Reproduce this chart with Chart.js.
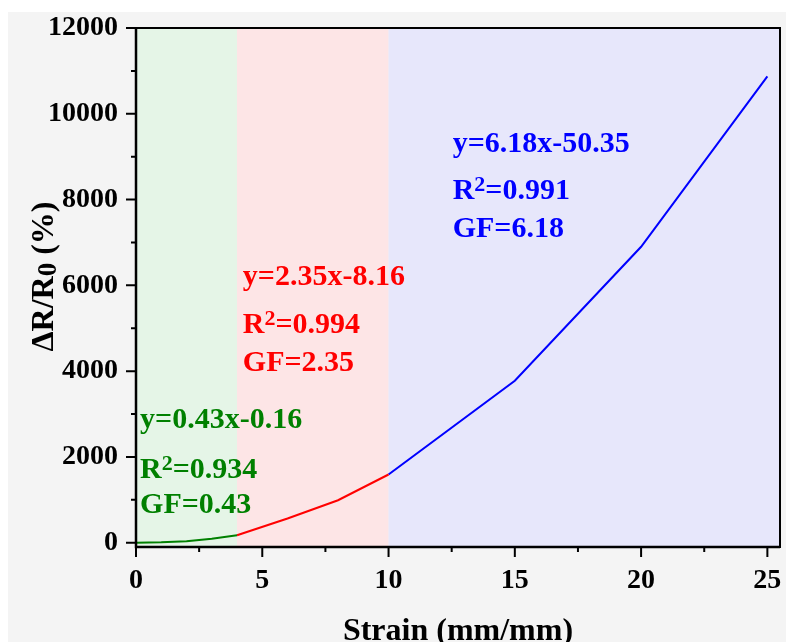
<!DOCTYPE html>
<html>
<head>
<meta charset="utf-8">
<script src="https://cdn.jsdelivr.net/npm/chart.js@4"></script>
<style>
  html, body { margin: 0; padding: 0; background: #ffffff; }
  canvas { display: block; }
</style>
</head>
<body>
<canvas id="strainChart" width="786" height="642"></canvas>
<script>
"use strict";

// Strain (mm/mm) against dR/R0 (%), one series for each linear region
const greenStrain = [0, 1, 2, 3, 4];
const greenResponse = [0, 8, 35, 95, 175];
const redStrain = [4, 6, 8, 10];
const redResponse = [175, 565, 990, 1590];
const blueStrain = [10, 15, 20, 25];
const blueResponse = [1590, 3775, 6900, 10870];

const xTickValues = [0, 5, 10, 15, 20, 25];
const xMinorValues = [2.5, 7.5, 12.5, 17.5, 22.5];
const yTickValues = [0, 2000, 4000, 6000, 8000, 10000, 12000];
const yMinorValues = [1000, 3000, 5000, 7000, 9000, 11000];

// strain limits of the three shaded regions
const regionEdges = [0, 4, 10, 25.5];

const fitEquations = ["y=0.43x-0.16", "y=2.35x-8.16", "y=6.18x-50.35"];
const fitR2 = ["=0.934", "=0.994", "=0.991"];
const fitGF = ["GF=0.43", "GF=2.35", "GF=6.18"];

const SERIF = "'Liberation Serif', 'Times New Roman', serif";
const colors = ["#008000", "#ff0000", "#0000ff"];
const regionColors = ["#e5f5e7", "#fde5e6", "#e7e7fb"];

// where each fit label sits, in data units (strain, first/second/third baseline)
const labelSpots = [
  { x: 0.16, ys: [2674, 1508, 692] },
  { x: 4.23, ys: [6007, 4888, 4002] },
  { x: 12.54, ys: [9107, 8011, 7126] },
];

function toPoints(xs, ys) {
  return xs.map((x, i) => ({ x: x, y: ys[i] }));
}

const decorPlugin = {
  id: "decor",
  beforeDraw(chart) {
    const ctx = chart.ctx;
    const area = chart.chartArea;
    const xs = chart.scales.x;
    ctx.save();
    ctx.fillStyle = "#ffffff";
    ctx.fillRect(0, 0, chart.width, chart.height);
    ctx.fillStyle = "#f4f4f4";
    ctx.fillRect(8, 12, chart.width - 8, chart.height - 12);
    for (let i = 0; i < regionColors.length; i++) {
      const x0 = xs.getPixelForValue(regionEdges[i]);
      const x1 = xs.getPixelForValue(regionEdges[i + 1]);
      ctx.fillStyle = regionColors[i];
      ctx.fillRect(x0, area.top, x1 - x0, area.bottom - area.top);
    }
    ctx.restore();
  },
  afterDatasetsDraw(chart) {
    const ctx = chart.ctx;
    const area = chart.chartArea;
    const xs = chart.scales.x;
    const ys = chart.scales.y;
    ctx.save();

    // frame, left and bottom axes a bit heavier
    ctx.strokeStyle = "#000";
    ctx.lineWidth = 2;
    ctx.strokeRect(area.left, area.top, area.right - area.left, area.bottom - area.top);
    ctx.lineWidth = 2.5;
    ctx.beginPath();
    ctx.moveTo(area.left, area.top);
    ctx.lineTo(area.left, area.bottom);
    ctx.lineTo(area.right, area.bottom);
    ctx.stroke();

    // outward ticks, left and bottom only
    ctx.lineWidth = 2;
    ctx.beginPath();
    yTickValues.forEach(v => {
      const y = ys.getPixelForValue(v);
      ctx.moveTo(area.left, y);
      ctx.lineTo(area.left - 10, y);
    });
    yMinorValues.forEach(v => {
      const y = ys.getPixelForValue(v);
      ctx.moveTo(area.left, y);
      ctx.lineTo(area.left - 5, y);
    });
    xTickValues.forEach(v => {
      const x = xs.getPixelForValue(v);
      ctx.moveTo(x, area.bottom);
      ctx.lineTo(x, area.bottom + 10);
    });
    xMinorValues.forEach(v => {
      const x = xs.getPixelForValue(v);
      ctx.moveTo(x, area.bottom);
      ctx.lineTo(x, area.bottom + 5);
    });
    ctx.stroke();

    // fit labels
    const big = "bold 30px " + SERIF;
    const small = "bold 22px " + SERIF;
    ctx.textBaseline = "alphabetic";
    ctx.textAlign = "left";
    labelSpots.forEach((spot, i) => {
      const x = xs.getPixelForValue(spot.x);
      const y0 = ys.getPixelForValue(spot.ys[0]);
      const y1 = ys.getPixelForValue(spot.ys[1]);
      const y2 = ys.getPixelForValue(spot.ys[2]);
      ctx.fillStyle = colors[i];
      ctx.font = big;
      ctx.fillText(fitEquations[i], x, y0);
      ctx.fillText("R", x, y1);
      let cx = x + ctx.measureText("R").width;
      ctx.font = small;
      ctx.fillText("2", cx, y1 - 8);
      cx += ctx.measureText("2").width;
      ctx.font = big;
      ctx.fillText(fitR2[i], cx, y1);
      ctx.fillText(fitGF[i], x, y2);
    });

    // y axis title with subscript
    const titleFont = "bold 32px " + SERIF;
    const subFont = "bold 27px " + SERIF;
    ctx.fillStyle = "#000";
    ctx.font = titleFont;
    const partA = "\u0394R/R";
    const partC = " (%)";
    const wA = ctx.measureText(partA).width;
    const wC = ctx.measureText(partC).width;
    ctx.font = subFont;
    const wB = ctx.measureText("0").width;
    const total = wA + wB + wC;
    ctx.translate(53, (area.top + area.bottom) / 2 - 11);
    ctx.rotate(-Math.PI / 2);
    let tx = -total / 2;
    ctx.font = titleFont;
    ctx.fillText(partA, tx, 0);
    tx += wA;
    ctx.font = subFont;
    ctx.fillText("0", tx, 3);
    tx += wB;
    ctx.font = titleFont;
    ctx.fillText(partC, tx, 0);

    ctx.restore();
  },
};

const ctx = document.getElementById("strainChart").getContext("2d");
const _ = new Chart(ctx, {
  type: "line",
  data: {
    datasets: [
      { data: toPoints(greenStrain, greenResponse), borderColor: colors[0] },
      { data: toPoints(redStrain, redResponse), borderColor: colors[1] },
      { data: toPoints(blueStrain, blueResponse), borderColor: colors[2] },
    ],
  },
  options: {
    responsive: false,
    animation: false,
    devicePixelRatio: 1,
    layout: { padding: { top: 28, right: 6, left: 0, bottom: 0 } },
    elements: {
      point: { radius: 0 },
      line: { borderWidth: 2, tension: 0 },
    },
    plugins: {
      legend: { display: false },
      tooltip: { enabled: false },
    },
    scales: {
      x: {
        type: "linear",
        min: 0,
        max: 25.5,
        afterBuildTicks: scale => {
          scale.ticks = xTickValues.map(v => ({ value: v }));
        },
        afterFit: scale => {
          scale.height = 95;
          scale.paddingLeft = 0;
          scale.paddingRight = 0;
        },
        grid: { display: false, drawTicks: false },
        border: { display: false },
        ticks: {
          color: "#000",
          padding: 17,
          maxRotation: 0,
          callback: v => String(v),
          font: { family: SERIF, size: 28, weight: "bold" },
        },
        title: {
          display: true,
          text: "Strain (mm/mm)",
          color: "#000",
          padding: { top: 0, bottom: -9 },
          font: { family: SERIF, size: 32, weight: "bold" },
        },
      },
      y: {
        min: -100,
        max: 12000,
        afterBuildTicks: scale => {
          scale.ticks = yTickValues.map(v => ({ value: v }));
        },
        afterFit: scale => {
          scale.width = 136;
          scale.paddingTop = 0;
          scale.paddingBottom = 0;
        },
        grid: { display: false, drawTicks: false },
        border: { display: false },
        ticks: {
          color: "#000",
          padding: 18,
          callback: v => String(v),
          font: { family: SERIF, size: 28, weight: "bold" },
        },
      },
    },
  },
  plugins: [decorPlugin],
});
</script>
</body>
</html>
